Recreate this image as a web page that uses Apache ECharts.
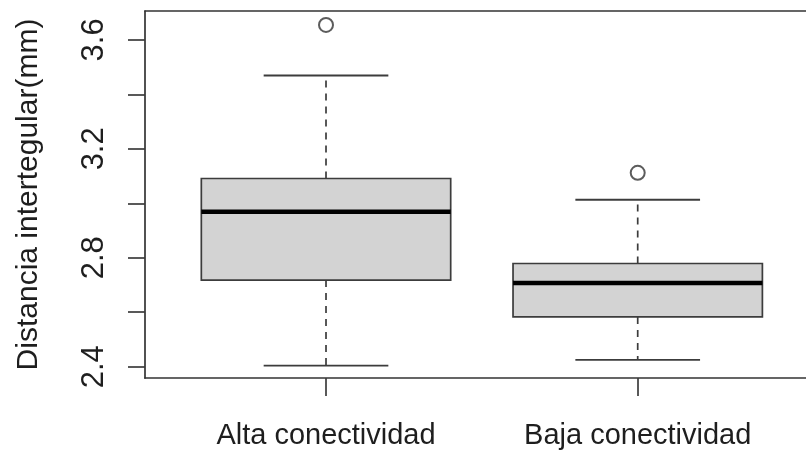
<!DOCTYPE html>
<html>
<head>
<meta charset="utf-8">
<script src="https://cdn.jsdelivr.net/npm/echarts@6/dist/echarts.min.js"></script>
<style>
  html, body { margin: 0; padding: 0; background: #fff; }
  #chart { width: 806px; height: 450px; }
</style>
</head>
<body>
<div id="chart"></div>
<script>
const categories = ['Alta conectividad', 'Baja conectividad'];
const whiskerLow = [2.404, 2.425];
const q1 = [2.718, 2.583];
const median = [2.969, 2.707];
const q3 = [3.091, 2.779];
const whiskerHigh = [3.469, 3.013];
const outliers = [[3.655], [3.112]];
const yTicks = [2.4, 2.6, 2.8, 3.0, 3.2, 3.4, 3.6];
const yTickLabels = [2.4, 2.8, 3.2, 3.6];
const yTitle = 'Distancia intertegular(mm)';

const boxData = categories.map((c, i) => [i + 1, whiskerLow[i], q1[i], median[i], q3[i], whiskerHigh[i]]);
const outlierData = [];
outliers.forEach((arr, i) => arr.forEach(v => outlierData.push([i + 1, v])));

const lineCol = '#3c3c3c';
const frameCol = '#333';
const FONT = '"Liberation Sans", Arial, Helvetica, sans-serif';

function renderBox(params, api) {
  const x = api.value(0);
  const pMin = api.coord([x, api.value(1)]);
  const pQ1 = api.coord([x, api.value(2)]);
  const pMed = api.coord([x, api.value(3)]);
  const pQ3 = api.coord([x, api.value(4)]);
  const pMax = api.coord([x, api.value(5)]);
  const halfBox = api.size([0.4, 0])[0];
  const halfCap = api.size([0.2, 0])[0];
  const cx = pMed[0];
  const dashStyle = { stroke: lineCol, lineWidth: 1.7, lineDash: [7, 6] };
  const solid = { stroke: lineCol, lineWidth: 1.9 };
  return {
    type: 'group',
    children: [
      { type: 'line', shape: { x1: cx, y1: pQ3[1], x2: cx, y2: pMax[1] }, style: dashStyle },
      { type: 'line', shape: { x1: cx, y1: pQ1[1], x2: cx, y2: pMin[1] }, style: dashStyle },
      { type: 'line', shape: { x1: cx - halfCap, y1: pMax[1], x2: cx + halfCap, y2: pMax[1] }, style: solid },
      { type: 'line', shape: { x1: cx - halfCap, y1: pMin[1], x2: cx + halfCap, y2: pMin[1] }, style: solid },
      { type: 'rect', shape: { x: cx - halfBox, y: pQ3[1], width: 2 * halfBox, height: pQ1[1] - pQ3[1] },
        style: { fill: '#d3d3d3', stroke: lineCol, lineWidth: 1.7 } },
      { type: 'line', shape: { x1: cx - halfBox, y1: pMed[1], x2: cx + halfBox, y2: pMed[1] },
        style: { stroke: '#000', lineWidth: 4.5 } }
    ]
  };
}

const chart = echarts.init(document.getElementById('chart'), null, { renderer: 'canvas' });
chart.setOption({
  animation: false,
  backgroundColor: '#fff',
  grid: { left: 145, top: 11, right: 0, height: 368, show: false },
  xAxis: [
    {
      type: 'value', min: 0.4193, max: 2.5399, position: 'bottom',
      splitLine: { show: false },
      axisLine: { show: true, onZero: false, lineStyle: { color: frameCol, width: 1.7 } },
      axisTick: { show: true, customValues: [1, 2], length: 18, lineStyle: { color: lineCol, width: 1.7 } },
      axisLabel: {
        customValues: [1, 2], margin: 43,
        formatter: v => categories[Math.round(v) - 1] || '',
        fontFamily: FONT, fontSize: 29, color: '#1e1e1e'
      }
    },
    {
      type: 'value', min: 0.4193, max: 2.5399, position: 'top',
      splitLine: { show: false },
      axisLine: { show: true, onZero: false, lineStyle: { color: frameCol, width: 1.7 } },
      axisTick: { show: false },
      axisLabel: { show: false }
    }
  ],
  yAxis: {
    type: 'value', min: 2.3586, max: 3.706,
    splitLine: { show: false },
    axisLine: { show: true, onZero: false, lineStyle: { color: frameCol, width: 1.7 } },
    axisTick: { show: true, customValues: yTicks, length: 17, lineStyle: { color: lineCol, width: 1.7 } },
    axisLabel: {
      customValues: yTickLabels, rotate: 90, margin: 35,
      formatter: v => v.toFixed(1),
      fontFamily: FONT, fontSize: 31, color: '#1e1e1e'
    },
    name: yTitle, nameLocation: 'middle', nameRotate: 90, nameGap: 101,
    nameTextStyle: { fontFamily: FONT, fontSize: 30, color: '#1e1e1e' }
  },
  series: [
    {
      type: 'custom',
      renderItem: renderBox,
      data: boxData,
      encode: { x: 0, y: [1, 2, 3, 4, 5] },
      z: 2
    },
    {
      type: 'scatter',
      data: outlierData,
      symbol: 'emptyCircle',
      symbolSize: 14,
      itemStyle: { color: '#333', borderColor: '#333', borderWidth: 1.7 },
      z: 3
    }
  ]
});
</script>
</body>
</html>
